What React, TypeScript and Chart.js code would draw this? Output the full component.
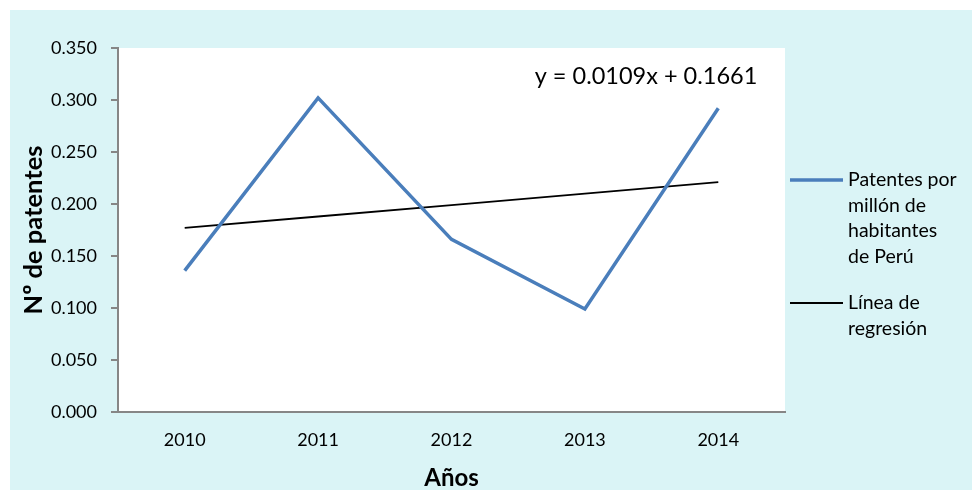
import React, { useEffect, useRef } from "react";
import { Chart, registerables } from "chart.js";

Chart.register(...registerables);

const years = ["2010", "2011", "2012", "2013", "2014"];
const patentes = [0.136, 0.302, 0.166, 0.099, 0.292];
const regresion = [0.177, 0.188, 0.199, 0.21, 0.221];
const seriesLabel = ["Patentes por", "millón de", "habitantes", "de Perú"];
const regLabel = ["Línea de", "regresión"];
const equation = "y = 0.0109x + 0.1661";
const yTitle = "Nº de patentes";
const xTitle = "Años";

const FONT = "Lato, 'Open Sans', sans-serif";
const BG = "#DAF4F6";
const AXIS = "#868686";
const BLUE = "#4A7EBB";

export default function App() {
  const ref = useRef<HTMLCanvasElement | null>(null);
  useEffect(() => {
    if (!ref.current) return;
    const bgPlugin = {
      id: "bg",
      beforeDraw(chart: any) {
        const { ctx, chartArea } = chart;
        ctx.save();
        ctx.fillStyle = BG;
        ctx.fillRect(0, 0, chart.width, chart.height);
        ctx.fillStyle = "#ffffff";
        ctx.fillRect(chartArea.left, chartArea.top, chartArea.right - chartArea.left, chartArea.bottom - chartArea.top);
        ctx.restore();
      },
    };
    const textPlugin = {
      id: "texts",
      afterDraw(chart: any) {
        const { ctx, chartArea } = chart;
        ctx.save();
        // equation
        ctx.fillStyle = "#000";
        ctx.font = `23.5px ${FONT}`;
        ctx.textAlign = "center";
        ctx.textBaseline = "middle";
        ctx.fillText(equation, 636, 66);
        // legend
        const lx = chartArea.right + 5;
        const tx = lx + 58;
        ctx.font = `19.5px ${FONT}`;
        ctx.textAlign = "left";
        const lh = 25.5;
        let y = 170;
        ctx.strokeStyle = BLUE;
        ctx.lineWidth = 3.5;
        ctx.beginPath();
        ctx.moveTo(lx, y);
        ctx.lineTo(lx + 53, y);
        ctx.stroke();
        seriesLabel.forEach((s, i) => ctx.fillText(s, tx, y + i * lh));
        y = 293;
        ctx.strokeStyle = "#000";
        ctx.lineWidth = 1.8;
        ctx.beginPath();
        ctx.moveTo(lx, y);
        ctx.lineTo(lx + 53, y);
        ctx.stroke();
        regLabel.forEach((s, i) => ctx.fillText(s, tx, y + i * lh));
        ctx.restore();
      },
    };
    const chart = new Chart(ref.current, {
      type: "line",
      data: {
        labels: years,
        datasets: [
          {
            label: seriesLabel.join(" "),
            data: patentes,
            borderColor: BLUE,
            backgroundColor: BLUE,
            borderWidth: 3.5,
            pointRadius: 0,
            tension: 0,
          },
          {
            label: regLabel.join(" "),
            data: regresion,
            borderColor: "#000",
            backgroundColor: "#000",
            borderWidth: 1.8,
            pointRadius: 0,
            tension: 0,
          },
        ],
      },
      options: {
        responsive: false,
        animation: false,
        layout: { padding: { top: 38, right: 187, left: 0, bottom: 0 } },
        plugins: { legend: { display: false }, tooltip: { enabled: false } },
        scales: {
          x: {
            type: "category",
            offset: true,
            grid: { display: false, drawTicks: false },
            border: { display: true, color: AXIS, width: 2 },
            ticks: { color: "#000", font: { family: FONT, size: 18 }, padding: 17, maxRotation: 0 },
            title: { display: true, text: xTitle, color: "#000", font: { family: FONT, size: 24, weight: "bold", lineHeight: 1 }, padding: { top: 0, bottom: 0 } },
            afterFit(scale: any) { scale.height = 78; },
          },
          y: {
            min: 0,
            max: 0.35,
            grid: { drawOnChartArea: false, drawTicks: true, tickLength: 7, color: AXIS, lineWidth: 2 },
            border: { display: true, color: AXIS, width: 2 },
            ticks: {
              stepSize: 0.05,
              color: "#000",
              font: { family: FONT, size: 18 },
              padding: 14,
              callback: (v: any) => Number(v).toFixed(3),
            },
            title: { display: true, text: yTitle, color: "#000", font: { family: FONT, size: 25.5, weight: "bold" }, padding: { top: 8, bottom: 0 } },
            afterFit(scale: any) { scale.width = 108; },
          },
        },
      },
      plugins: [bgPlugin, textPlugin],
    });
    return () => chart.destroy();
  }, []);
  return (
    <div style={{ position: "absolute", left: 10, top: 10, width: 962, height: 480 }}>
      <canvas ref={ref} width={962} height={480} style={{ display: "block" }} />
    </div>
  );
}
